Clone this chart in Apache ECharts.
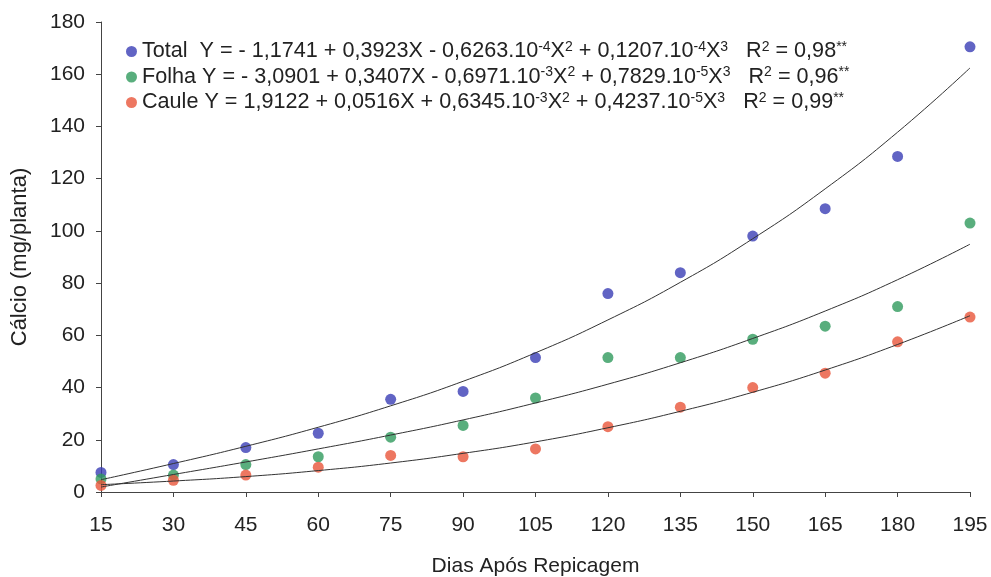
<!DOCTYPE html>
<html>
<head>
<meta charset="utf-8">
<script src="https://cdn.jsdelivr.net/npm/echarts@6/dist/echarts.min.js"></script>
<style>html,body{margin:0;padding:0;background:#fff;}#c{width:991px;height:577px;}</style>
</head>
<body>
<div id="c"></div>
<script>
// Days after transplanting (x values)
const days = [15, 30, 45, 60, 75, 90, 105, 120, 135, 150, 165, 180, 195];
// Observed values (mg/planta)
const totalObs = [7.5, 10.5, 17, 22.5, 35.5, 38.5, 51.5, 76, 84, 98, 108.5, 128.5, 170.5];
const folhaObs = [5, 6.5, 10.5, 13.5, 21, 25.5, 36, 51.5, 51.5, 58.5, 63.5, 71, 103];
const cauleObs = [2.5, 4.5, 6.5, 9.5, 14, 13.5, 16.5, 25, 32.5, 40, 45.5, 57.5, 67];
// Fitted curve values at each day
const totalFit = [4.7, 10.9, 17.5, 24.8, 33.0, 42.4, 53.3, 65.9, 80.3, 97.0, 116.1, 137.8, 162.4];
const folhaFit = [1.9, 6.7, 11.5, 16.5, 21.8, 27.6, 34.1, 41.3, 49.5, 58.8, 69.3, 81.3, 94.9];
const cauleFit = [2.8, 4.2, 5.9, 8.2, 11.1, 14.8, 19.2, 24.6, 30.9, 38.2, 46.7, 56.5, 67.5];
// Legend labels (rich text)
const seriesNames = ['Total', 'Folha', 'Caule'];
const legendLabels = {
  'Total': '{n|Total  Y = - 1,1741 + 0,3923X - 0,6263.10}{s|-4}{n|X}{s|2}{n| + 0,1207.10}{s|-4}{n|X}{s|3}{n|   R}{s|2}{n| = 0,98}{s|**}',
  'Folha': '{n|Folha Y = - 3,0901 + 0,3407X - 0,6971.10}{s|-3}{n|X}{s|2}{n| + 0,7829.10}{s|-5}{n|X}{s|3}{n|   R}{s|2}{n| = 0,96}{s|**}',
  'Caule': '{n|Caule Y = 1,9122 + 0,0516X + 0,6345.10}{s|-3}{n|X}{s|2}{n| + 0,4237.10}{s|-5}{n|X}{s|3}{n|   R}{s|2}{n| = 0,99}{s|**}'
};
const colors = ['#3a3db5', '#2f9a5c', '#e8553a'];
const FONT = 'Liberation Sans, Arial, sans-serif';

const pair = (xs, ys) => xs.map((x, i) => [x, ys[i]]);

const chart = echarts.init(document.getElementById('c'), null, {renderer: 'canvas'});
chart.setOption({
  animation: false,
  backgroundColor: '#fff',
  grid: {left: 101, right: 21, top: 22, bottom: 85, containLabel: false, outerBoundsMode: 'none'},
  legend: {
    data: seriesNames,
    orient: 'vertical',
    left: 121, top: 35,
    itemWidth: 11, itemHeight: 11,
    itemGap: 3,
    icon: 'circle',
    formatter: n => legendLabels[n],
    textStyle: {
      color: '#222',
      rich: {
        n: {fontSize: 21.6, fontFamily: FONT, color: '#222', lineHeight: 23},
        s: {fontSize: 14, fontFamily: FONT, color: '#222', lineHeight: 13, verticalAlign: 'top'}
      }
    }
  },
  xAxis: {
    type: 'value', min: 15, max: 195, interval: 15,
    name: 'Dias Após Repicagem', nameLocation: 'middle', nameGap: 64,
    nameTextStyle: {fontSize: 21, fontFamily: FONT, color: '#222'},
    axisLine: {lineStyle: {color: '#444', width: 1}},
    axisTick: {show: true, length: 5, lineStyle: {color: '#444'}},
    axisLabel: {fontSize: 21, fontFamily: FONT, color: '#222', margin: 23},
    splitLine: {show: false}
  },
  yAxis: {
    type: 'value', min: 0, max: 180, interval: 20,
    name: 'Cálcio (mg/planta)', nameLocation: 'middle', nameGap: 70, nameRotate: 90,
    nameTextStyle: {fontSize: 22, fontFamily: FONT, color: '#222'},
    axisLine: {show: true, lineStyle: {color: '#444', width: 1}},
    axisTick: {show: true, length: 5, lineStyle: {color: '#444'}},
    axisLabel: {fontSize: 21, fontFamily: FONT, color: '#222', margin: 16},
    splitLine: {show: false}
  },
  series: [
    {name: 'Total', type: 'scatter', data: pair(days, totalObs), symbolSize: 11, itemStyle: {color: colors[0]}, z: 2},
    {name: 'Folha', type: 'scatter', data: pair(days, folhaObs), symbolSize: 11, itemStyle: {color: colors[1]}, z: 2},
    {name: 'Caule', type: 'scatter', data: pair(days, cauleObs), symbolSize: 11, itemStyle: {color: colors[2]}, z: 2},
    {name: 'TotalFit', type: 'line', data: pair(days, totalFit), smooth: true, showSymbol: false, lineStyle: {color: '#333', width: 1}, z: 3},
    {name: 'FolhaFit', type: 'line', data: pair(days, folhaFit), smooth: true, showSymbol: false, lineStyle: {color: '#333', width: 1}, z: 3},
    {name: 'CauleFit', type: 'line', data: pair(days, cauleFit), smooth: true, showSymbol: false, lineStyle: {color: '#333', width: 1}, z: 3}
  ]
});
</script>
</body>
</html>
